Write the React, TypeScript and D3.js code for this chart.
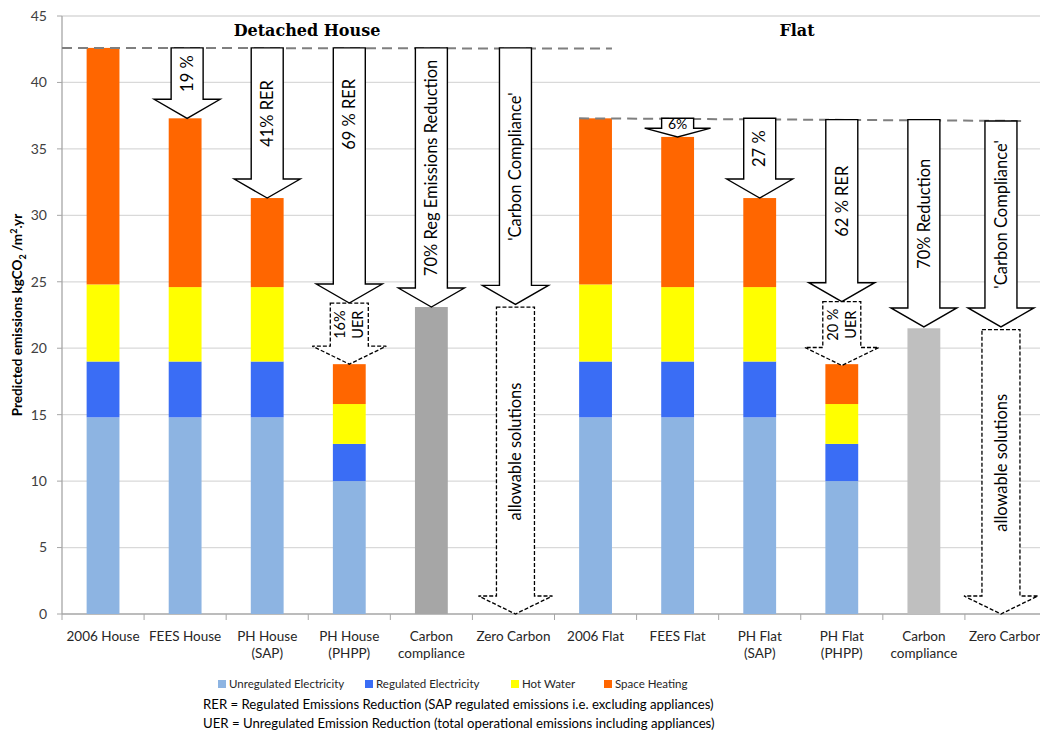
import React from "react";
import * as d3 from "d3";

const categoryLabels: string[][] = [
  ["2006 House"], ["FEES House"], ["PH House", "(SAP)"], ["PH House", "(PHPP)"], ["Carbon", "compliance"], ["Zero Carbon"],
  ["2006 Flat"], ["FEES Flat"], ["PH Flat", "(SAP)"], ["PH Flat", "(PHPP)"], ["Carbon", "compliance"], ["Zero Carbon"],
];
const unregulatedElectricity = [14.8, 14.8, 14.8, 10.0, 0, 0, 14.8, 14.8, 14.8, 10.0, 0, 0];
const regulatedElectricity = [4.2, 4.2, 4.2, 2.8, 0, 0, 4.2, 4.2, 4.2, 2.8, 0, 0];
const hotWater = [5.8, 5.6, 5.6, 3.0, 0, 0, 5.8, 5.6, 5.6, 3.0, 0, 0];
const spaceHeating = [17.8, 12.7, 6.7, 3.0, 0, 0, 12.5, 11.3, 6.7, 3.0, 0, 0];
const carbonCompliance = [0, 0, 0, 0, 23.1, 0, 0, 0, 0, 0, 21.5, 0];
const yTicks = [0, 5, 10, 15, 20, 25, 30, 35, 40, 45];
const seriesNames = ["Unregulated Electricity", "Regulated Electricity", "Hot Water", "Space Heating"];
const groupTitles = ["Detached House", "Flat"];
const baselines = [42.6, 37.3];

type Arrow = { cat: number; from: number; to: number; label: string[]; dashed?: boolean; flat?: boolean; labelAt?: number };
const arrows: Arrow[] = [
  { cat: 1, from: 42.6, to: 37.3, label: ["19 %"] },
  { cat: 2, from: 42.6, to: 31.3, label: ["41% RER"] },
  { cat: 3, from: 42.6, to: 23.4, label: ["69 % RER"], labelAt: 37.6 },
  { cat: 3, from: 23.4, to: 18.8, label: ["16%", "UER"], dashed: true },
  { cat: 4, from: 42.6, to: 23.1, label: ["70% Reg Emissions Reduction"] },
  { cat: 5, from: 42.6, to: 23.3, label: ["'Carbon Compliance'"] },
  { cat: 5, from: 23.1, to: 0, label: ["allowable solutions"], dashed: true },
  { cat: 7, from: 37.3, to: 35.9, label: ["6%"], flat: true },
  { cat: 8, from: 37.3, to: 31.3, label: ["27 %"] },
  { cat: 9, from: 37.2, to: 23.5, label: ["62 % RER"] },
  { cat: 9, from: 23.5, to: 18.7, label: ["20 %", "UER"], dashed: true },
  { cat: 10, from: 37.2, to: 21.6, label: ["70% Reduction"] },
  { cat: 11, from: 37.1, to: 21.6, label: ["'Carbon Compliance'"] },
  { cat: 11, from: 21.4, to: 0, label: ["allowable solutions"], dashed: true },
];

const colors = ["#8db4e2", "#3a6df5", "#ffff00", "#ff6600"];
const greyColors = ["#a6a6a6", "#bfbfbf"];
const FONT = "Lato, 'Noto Sans', sans-serif";

export default function App() {
  const W = 1040, H = 735;
  const left = 62, right = 1047, top = 16, bottom = 614;
  const idx = categoryLabels.map((_, i) => i);
  const x = d3.scaleBand<number>().domain(idx).range([left, right]).paddingInner(0).paddingOuter(0);
  const y = d3.scaleLinear().domain([0, 45]).range([bottom, top]);
  const bw = x.bandwidth();
  const barW = bw * 0.4;
  const cx = (i: number) => (x(i) as number) + bw / 2;
  const arrowShift = (i: number) => (i === 11 ? -5 : i === 1 || i === 5 ? 2 : 0);

  const rows = idx.map((i) => ({
    i,
    s0: unregulatedElectricity[i], s1: regulatedElectricity[i], s2: hotWater[i], s3: spaceHeating[i],
  }));
  const stack = d3.stack<any>().keys(["s0", "s1", "s2", "s3"])(rows);

  const arrowPath = (a: Arrow) => {
    const c = cx(a.cat) + arrowShift(a.cat);
    const sw = a.dashed ? 19 : 16;
    const hw = a.dashed ? 37 : 33;
    const yTop = y(a.from), yTip = y(a.to);
    const hh = Math.min(a.dashed ? 18 : 19, (yTip - yTop) * 0.47);
    const yHead = yTip - hh;
    const pts: [number, number][] = [
      [c - sw, yTop], [c + sw, yTop], [c + sw, yHead], [c + hw, yHead], [c, yTip], [c - hw, yHead], [c - sw, yHead],
    ];
    return { d: d3.line()(pts) + "Z", c, yTop, yHead };
  };

  const legendX = [218, 365, 511, 604];

  return (
    <div style={{ position: "absolute", left: 0, top: 0 }}>
      <svg width={W} height={H} style={{ display: "block", background: "#fff" }}>
        {/* gridlines */}
        {yTicks.filter((t) => t > 0).map((t) => (
          <line key={t} x1={left} x2={right} y1={y(t)} y2={y(t)} stroke="#d9d9d9" strokeWidth={1.3} />
        ))}
        {/* y axis */}
        <line x1={left} x2={left} y1={top} y2={bottom} stroke="#a6a6a6" strokeWidth={1.3} />
        {yTicks.map((t) => (
          <g key={"yt" + t}>
            <line x1={left - 5} x2={left} y1={y(t)} y2={y(t)} stroke="#a6a6a6" />
            <text x={left - 15} y={y(t)} dy="0.35em" textAnchor="end" fontFamily={FONT} fontSize={14} fill="#404040">{t}</text>
          </g>
        ))}
        {/* x axis */}
        <line x1={left} x2={right} y1={bottom} y2={bottom} stroke="#a6a6a6" strokeWidth={1.3} />
        {idx.concat([idx.length]).map((i) => {
          const xx = i < idx.length ? (x(i) as number) : right;
          return <line key={"xt" + i} x1={xx} x2={xx} y1={bottom} y2={bottom + 6} stroke="#a6a6a6" />;
        })}
        {categoryLabels.map((lines, i) => (
          <text key={"xl" + i} x={cx(i)} y={bottom + 27} textAnchor="middle" fontFamily={FONT} fontSize={13.5} fill="#262626">
            {lines.map((l, k) => <tspan key={k} x={cx(i)} dy={k === 0 ? 0 : 17}>{l}</tspan>)}
          </text>
        ))}
        {/* stacked bars */}
        {stack.map((layer, si) => (
          <g key={"layer" + si} fill={colors[si]}>
            {layer.map((d, i) => d[1] - d[0] > 0 ? (
              <rect key={i} x={cx(i) - barW / 2} width={barW} y={y(d[1])} height={y(d[0]) - y(d[1])} />
            ) : null)}
          </g>
        ))}
        {carbonCompliance.map((v, i) => v > 0 ? (
          <rect key={"cc" + i} x={cx(i) - barW / 2} width={barW} y={y(v)} height={y(0) - y(v)} fill={greyColors[i < 6 ? 0 : 1]} />
        ) : null)}
        {/* baseline dashed lines */}
        <line x1={left} x2={cx(6) + barW / 2} y1={y(baselines[0])} y2={y(baselines[0] - 0.05)} stroke="#7f7f7f" strokeWidth={2} strokeDasharray="10,6" />
        <line x1={cx(6) - barW / 2} x2={(x(11) as number) + bw * 0.75} y1={y(baselines[1])} y2={y(baselines[1] - 0.2)} stroke="#7f7f7f" strokeWidth={2} strokeDasharray="10,6" />
        {/* arrows */}
        {arrows.map((a, k) => {
          const g = arrowPath(a);
          const midY = a.labelAt !== undefined ? y(a.labelAt) : (g.yTop + g.yHead) / 2;
          return (
            <g key={"ar" + k}>
              <path d={g.d} fill="#fff" stroke="#000" strokeWidth={a.dashed ? 1.3 : 1.4} strokeDasharray={a.dashed ? "4,2" : undefined} strokeLinejoin="miter" />
              {a.flat ? (
                <text x={g.c} y={g.yTop + 11} textAnchor="middle" fontFamily={FONT} fontSize={14} fill="#000">{a.label[0]}</text>
              ) : (
                <text transform={`translate(${g.c},${midY}) rotate(-90)`} textAnchor="middle" fontFamily={FONT} fontSize={a.label.length === 1 ? 16.5 : 14.5} fill="#000">
                  {a.label.length === 1 ? (
                    <tspan x={0} dy="0.35em">{a.label[0]}</tspan>
                  ) : (
                    a.label.map((l, j) => <tspan key={j} x={0} y={j === 0 ? -4 : 14}>{l}</tspan>)
                  )}
                </text>
              )}
            </g>
          );
        })}
        {/* group titles */}
        <text x={307} y={36} textAnchor="middle" fontFamily="'DejaVu Serif', 'Liberation Serif', serif" fontWeight="bold" fontSize={16} fill="#000">{groupTitles[0]}</text>
        <text x={797} y={36} textAnchor="middle" fontFamily="'DejaVu Serif', 'Liberation Serif', serif" fontWeight="bold" fontSize={16} fill="#000">{groupTitles[1]}</text>
        {/* y label */}
        <text transform={`translate(22,${(193 + 437) / 2}) rotate(-90)`} textAnchor="middle" fontFamily={FONT} fontWeight="bold" fontSize={13.5} fill="#000">
          Predicted emissions  kgCO<tspan fontSize={9} dy={4}>2</tspan><tspan dy={-4}> /m</tspan><tspan fontSize={9} dy={-5}>2</tspan><tspan dy={5}>.yr</tspan>
        </text>
        {/* legend */}
        {seriesNames.map((n, i) => (
          <g key={"lg" + i}>
            <rect x={legendX[i]} y={680} width={8} height={8} fill={colors[i]} />
            <text x={legendX[i] + 11} y={684} dy="0.35em" fontFamily={FONT} fontSize={11.5} fill="#262626">{n}</text>
          </g>
        ))}
        <text x={203} y={709} fontFamily={FONT} fontSize={13.2} fill="#000">RER =  Regulated Emissions Reduction (SAP regulated emissions i.e. excluding appliances)</text>
        <text x={203} y={728} fontFamily={FONT} fontSize={13.2} fill="#000">UER = Unregulated Emission Reduction (total operational emissions including appliances)</text>
      </svg>
    </div>
  );
}
